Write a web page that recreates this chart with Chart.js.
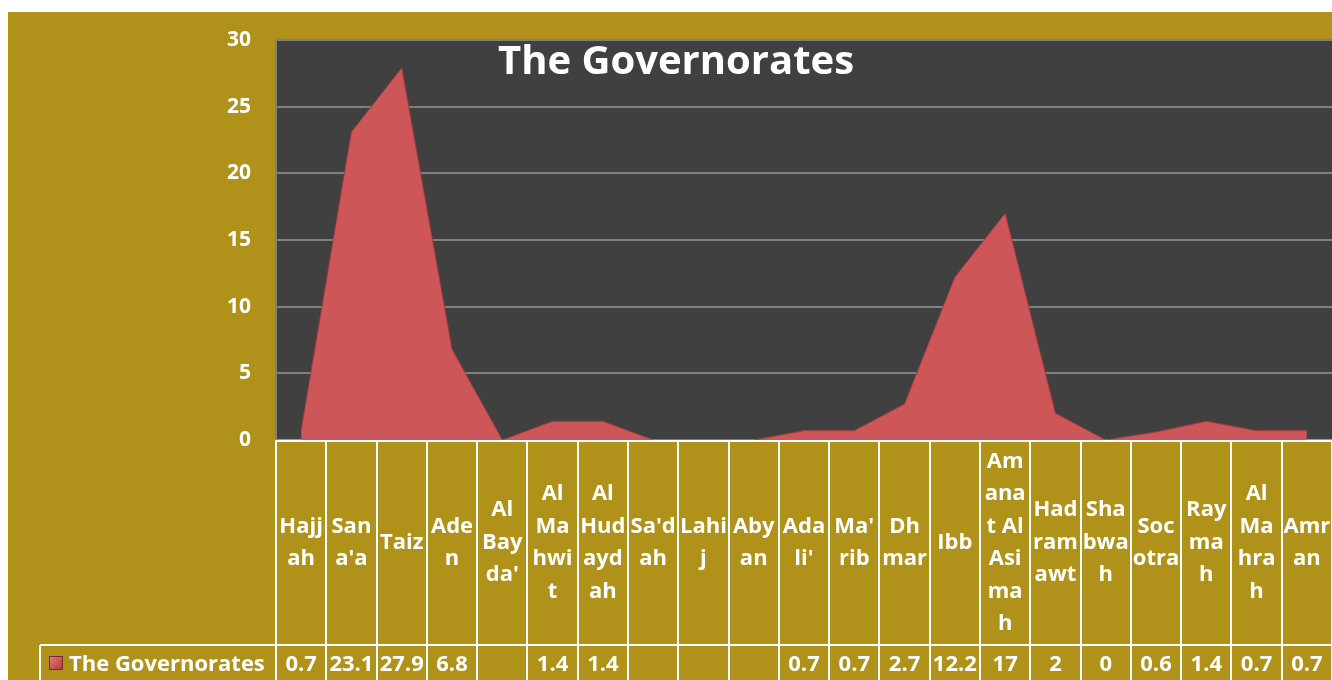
<!DOCTYPE html>
<html><head><meta charset="utf-8">
<script src="https://cdn.jsdelivr.net/npm/chart.js@4.4.1/dist/chart.umd.min.js"></script>
<style>html,body{margin:0;padding:0;background:#fff;}#wrap{width:1332px;height:680px;position:relative;}</style>
</head><body><div id="wrap"><canvas id="c" width="1332" height="680"></canvas></div>
<script>
const categories = ["Hajjah","Sana'a","Taiz","Aden","Al Bayda'","Al Mahwit","Al Hudaydah","Sa'dah","Lahij","Abyan","Adali'","Ma'rib","Dhmar","Ibb","Amanat Al Asimah","Hadramawt","Shabwah","Socotra","Raymah","Al Mahrah","Amran"];
const categoryLines = [["Hajj","ah"],["San","a'a"],["Taiz"],["Ade","n"],["Al","Bay","da'"],["Al","Ma","hwi","t"],["Al","Hud","ayd","ah"],["Sa'd","ah"],["Lahi","j"],["Aby","an"],["Ada","li'"],["Ma'","rib"],["Dh","mar"],["Ibb"],["Am","ana","t Al","Asi","ma","h"],["Had","ram","awt"],["Sha","bwa","h"],["Soc","otra"],["Ray","ma","h"],["Al","Ma","hra","h"],["Amr","an"]];
const seriesName = "The Governorates";
const values = [0.7,23.1,27.9,6.8,null,1.4,1.4,null,null,null,0.7,0.7,2.7,12.2,17,2,0,0.6,1.4,0.7,0.7];
const yTicks = [0,5,10,15,20,25,30];
const titleText = "The Governorates";

const FONT = "'Open Sans', Lato, sans-serif";
const GOLD = "#B0921A";

const bgPlugin = {
  id:'bg',
  beforeDraw(chart){
    const ctx = chart.ctx, a = chart.chartArea;
    ctx.save();
    ctx.fillStyle = '#fff'; ctx.fillRect(0,0,chart.width,chart.height);
    ctx.fillStyle = GOLD; ctx.fillRect(8,12,chart.width-8,chart.height-12);
    ctx.fillStyle = '#404040'; ctx.fillRect(a.left,a.top,a.right-a.left,a.bottom-a.top);
    ctx.restore();
  },
  afterDraw(chart){
    const ctx = chart.ctx, a = chart.chartArea, xs = chart.scales.x;
    const n = categories.length;
    const w = (a.right - a.left)/n;
    ctx.save();
    // title
    ctx.fillStyle = '#fff';
    ctx.font = "bold 40px " + FONT;
    ctx.textAlign = 'center'; ctx.textBaseline = 'middle';
    ctx.fillText(titleText, 676, 63);
    // table grid
    const tTop = a.bottom, rowY = 645, tBot = chart.height;
    ctx.strokeStyle = '#ffffff'; ctx.lineWidth = 2;
    ctx.beginPath();
    ctx.moveTo(a.left, tTop+1); ctx.lineTo(a.right, tTop+1);
    ctx.moveTo(40, rowY); ctx.lineTo(a.right, rowY);
    ctx.moveTo(40, rowY); ctx.lineTo(40, tBot);
    for(let i=0;i<=n;i++){
      const x = Math.round(a.left + i*w);
      ctx.moveTo(x, tTop); ctx.lineTo(x, tBot);
    }
    ctx.stroke();
    // category labels
    ctx.font = "bold 22px " + FONT;
    ctx.fillStyle = '#fff';
    const lh = 32.5, midY = (tTop + rowY)/2;
    for(let i=0;i<n;i++){
      const cx = xs.getPixelForValue(i);
      const lines = categoryLines[i];
      const y0 = midY - (lines.length-1)*lh/2;
      lines.forEach((s,k)=>ctx.fillText(s, cx, y0 + k*lh));
    }
    // values row
    const vy = 665;
    for(let i=0;i<n;i++){
      if(values[i]===null) continue;
      ctx.fillText(String(values[i]), xs.getPixelForValue(i), vy);
    }
    // legend key + name
    const g = ctx.createLinearGradient(49,655,63,669);
    g.addColorStop(0,'#e88080'); g.addColorStop(1,'#b03a3a');
    ctx.fillStyle = g; ctx.fillRect(49,656,14,14);
    ctx.strokeStyle = '#7a2a2a'; ctx.lineWidth = 1; ctx.strokeRect(49.5,656.5,13,13);
    ctx.fillStyle = '#fff'; ctx.textAlign = 'left';
    ctx.font = "bold 22px " + FONT;
    ctx.fillText(seriesName, 69, vy);
    ctx.restore();
  }
};

new Chart(document.getElementById('c'), {
  type:'line',
  data:{
    labels: categories,
    datasets:[{
      label: seriesName,
      data: values.map(v => v === null ? 0 : v),
      fill:'origin',
      backgroundColor:'rgb(207,86,88)',
      borderColor:'rgb(160,62,66)',
      borderWidth:1,
      pointRadius:0,
      tension:0
    }]
  },
  options:{
    responsive:false, animation:false,
    layout:{padding:{left:0,top:40,right:0,bottom:0}},
    plugins:{legend:{display:false}, tooltip:{enabled:false}, title:{display:false}},
    scales:{
      x:{
        offset:true,
        grid:{display:false, drawTicks:false},
        border:{display:true,color:'#9a9a9a',width:2},
        ticks:{display:false},
        afterFit(s){ s.height = 240; }
      },
      y:{
        min:0, max:30,
        afterBuildTicks(s){ s.ticks = yTicks.map(v=>({value:v})); },
        grid:{color:'#808080', lineWidth:2, drawTicks:false},
        border:{display:true,color:'#808080',width:2},
        ticks:{color:'#fff', font:{family:FONT, size:21, weight:'bold'}, padding:25},
        afterFit(s){ s.width = 276; }
      }
    }
  },
  plugins:[bgPlugin]
});
</script></body></html>
